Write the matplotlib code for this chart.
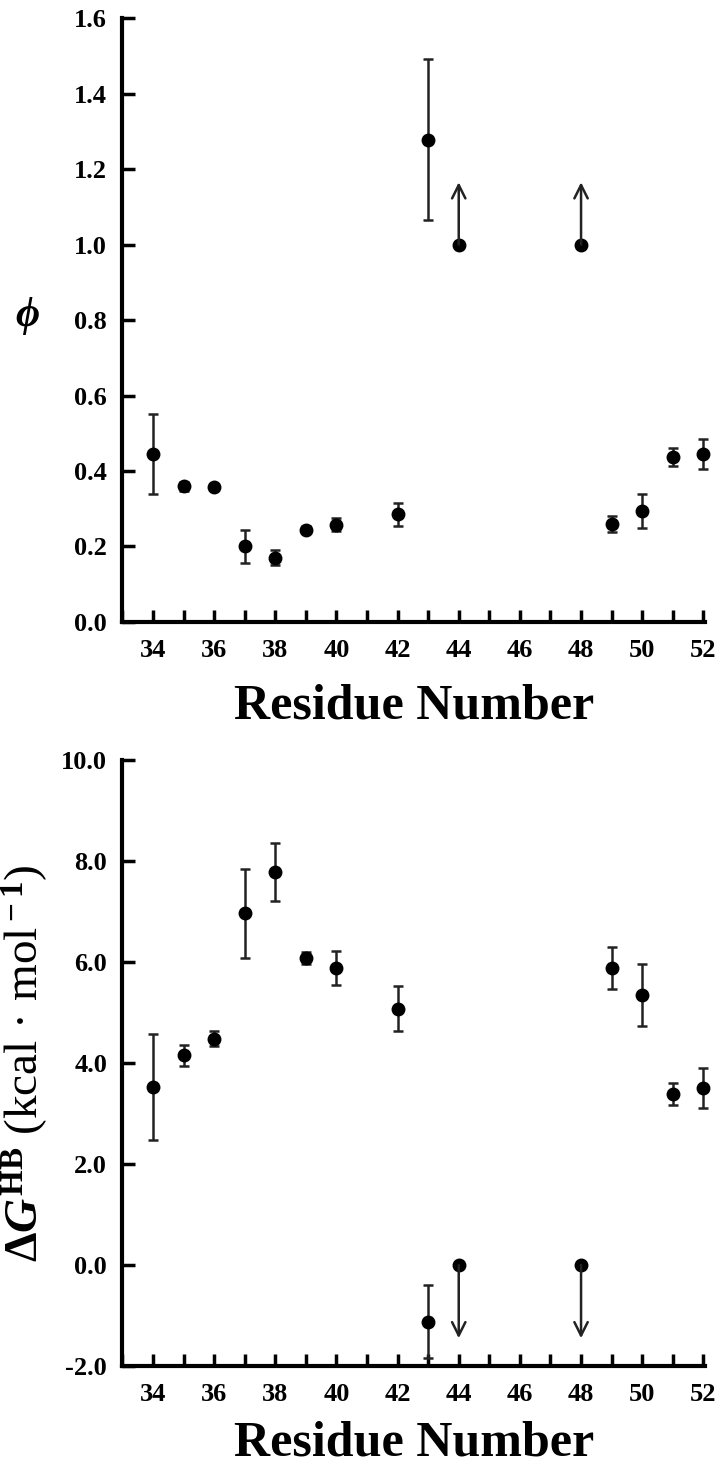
import numpy as np
import matplotlib
matplotlib.use("Agg")
import matplotlib.pyplot as plt

plt.rcParams['font.family'] = ['Liberation Serif', 'DejaVu Serif']
plt.rcParams['font.weight'] = 'bold'
plt.rcParams['mathtext.fontset'] = 'custom'
plt.rcParams['mathtext.rm'] = 'Liberation Serif:bold'
plt.rcParams['mathtext.it'] = 'Liberation Serif:bold:italic'
plt.rcParams['mathtext.bf'] = 'Liberation Serif:bold'

# phi values (top panel)
phi_res = [34, 35, 36, 37, 38, 39, 40, 42, 43, 49, 50, 51, 52]
phi_val = [0.445, 0.36, 0.357, 0.20, 0.17, 0.245, 0.258, 0.285, 1.278, 0.26, 0.295, 0.437, 0.445]
phi_err = [0.105, 0.012, 0.008, 0.043, 0.02, 0.01, 0.018, 0.03, 0.213, 0.022, 0.045, 0.025, 0.04]
phi_lim_res = [44, 48]
phi_lim_val = [1.0, 1.0]
phi_arrow = 0.165

# Delta G HB values (bottom panel)
dg_res = [34, 35, 36, 37, 38, 39, 40, 42, 43, 49, 50, 51, 52]
dg_val = [3.52, 4.15, 4.48, 6.97, 7.78, 6.08, 5.88, 5.08, -1.12, 5.88, 5.35, 3.38, 3.5]
dg_err = [1.05, 0.2, 0.15, 0.88, 0.57, 0.12, 0.33, 0.45, 0.72, 0.42, 0.62, 0.22, 0.4]
dg_lim_res = [44, 48]
dg_lim_val = [0.0, 0.0]
dg_arrow = -1.45

fig = plt.figure(figsize=(7.2, 14.69), dpi=100)
ax1 = fig.add_axes([0.170, 0.5766, 0.809, 0.4111])
ax2 = fig.add_axes([0.170, 0.0701, 0.809, 0.4125])


def style(ax, lpad):
    for s in ['top', 'right']:
        ax.spines[s].set_visible(False)
    for s in ['left', 'bottom']:
        ax.spines[s].set_linewidth(3)
    ax.set_xlim(33, 52.05)
    ax.set_xticks(np.arange(34, 53, 2))
    ax.set_xticks(np.arange(33, 53, 1), minor=True)
    ax.tick_params(axis='x', which='both', direction='in', length=9, width=2.5, pad=12, labelsize=19)
    ax.tick_params(axis='y', direction='in', length=9, width=2.5, pad=11, labelsize=19)
    ax.set_xlabel('Residue Number', fontsize=36, fontweight='bold', labelpad=lpad)


def draw(ax, res, val, err, lres, lval, alen):
    ax.errorbar(res, val, yerr=err, fmt='o', color='black', ms=9,
                ecolor='#222222', elinewidth=1.8, capsize=3.5, capthick=1.8,
                clip_on=False, zorder=3)
    ax.plot(lres, lval, 'o', color='black', ms=9, clip_on=False, zorder=3)
    for x, y in zip(lres, lval):
        ax.annotate('', xy=(x, y + alen), xytext=(x, y),
                    arrowprops=dict(arrowstyle='->', lw=1.8, color='#222222',
                                    mutation_scale=24, shrinkA=0, shrinkB=0))


draw(ax1, phi_res, phi_val, phi_err, phi_lim_res, phi_lim_val, phi_arrow)
style(ax1, 16)
ax1.set_ylim(0, 1.6)
ax1.set_yticks(np.arange(0, 1.61, 0.2))
ax1.set_yticklabels(['%.1f' % v for v in np.arange(0, 1.61, 0.2)])
ax1.set_ylabel(r'$\phi$', fontsize=30, rotation=0, va='center', ha='center')
ax1.yaxis.set_label_coords(-0.163, 0.507)

draw(ax2, dg_res, dg_val, dg_err, dg_lim_res, dg_lim_val, dg_arrow)
style(ax2, 11)
ax2.set_ylim(-2, 10)
ax2.set_yticks(np.arange(-2, 10.1, 2))
ax2.set_yticklabels(['%.1f' % v for v in np.arange(-2, 10.1, 2)])
ax2.set_ylabel(r'$\Delta G^{\rm HB}$ (kcal · mol$^{\rm -1}$)', fontsize=34, labelpad=8)

fig.savefig('out.png', dpi=100)
